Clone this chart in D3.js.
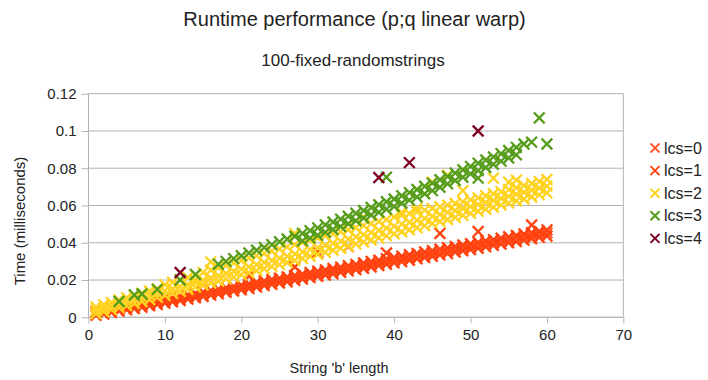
<!DOCTYPE html>
<html><head><meta charset="utf-8">
<script src="https://cdn.jsdelivr.net/npm/d3@7"></script>
<style>body{margin:0;background:#fff}svg{display:block}text{font-family:"Liberation Sans",Arial,sans-serif;fill:#222}</style>
</head><body><svg id="c" width="708" height="380"></svg>
<script>
const chartTitle = "Runtime performance (p;q linear warp)";
const chartSubtitle = "100-fixed-randomstrings";
const xTitle = "String 'b' length";
const yTitle = "Time (milliseconds)";
const xTicks = [0,10,20,30,40,50,60,70];
const yTicks = [0,0.02,0.04,0.06,0.08,0.1,0.12];
const yTickLabels = ["0","0.02","0.04","0.06","0.08","0.1","0.12"];
const seriesNames = ["lcs=0","lcs=1","lcs=2","lcs=3","lcs=4"];
const seriesColors = ["#ff5a36","#ff420e","#ffd320","#579d1c","#7e0021"];

const lengths = [1,2,3,4,5,6,7,8,9,10,11,12,13,14,15,16,17,18,19,20,21,22,23,24,25,26,27,28,29,30,
  31,32,33,34,35,36,37,38,39,40,41,42,43,44,45,46,47,48,49,50,51,52,53,54,55,56,57,58,59,60];

// lcs=0
const lcs0Time = [.0022,.0030,.0037,.0044,.0052,.0059,.0066,.0073,.0081,.0088,.0095,.0103,.0110,.0117,.0125,.0132,.0139,.0146,.0154,.0161,
  .0168,.0176,.0183,.0190,.0198,.0205,.0212,.0219,.0227,.0234,.0241,.0249,.0256,.0263,.0271,.0278,.0285,.0292,.0300,.0307,
  .0314,.0322,.0329,.0336,.0344,.0351,.0358,.0365,.0373,.0380,.0387,.0395,.0402,.0409,.0417,.0424,.0431,.0438,.0446,.0453];

// lcs=1
const lcs1TimeLow = [.0011,.0018,.0026,.0033,.0040,.0047,.0054,.0062,.0069,.0076,.0083,.0090,.0098,.0105,.0112,.0119,.0126,.0134,.0141,.0148,
  .0155,.0162,.0170,.0177,.0184,.0191,.0198,.0206,.0213,.0220,.0227,.0234,.0242,.0249,.0256,.0263,.0270,.0278,.0285,.0292,
  .0299,.0306,.0314,.0321,.0328,.0335,.0342,.0350,.0357,.0364,.0371,.0378,.0386,.0393,.0400,.0407,.0414,.0422,.0429,.0436];
const lcs1TimeHigh = [.0032,.0040,.0047,.0055,.0062,.0069,.0077,.0084,.0092,.0099,.0106,.0114,.0121,.0129,.0136,.0143,.0151,.0158,.0166,.0173,
  .0180,.0188,.0195,.0203,.0210,.0217,.0225,.0232,.0240,.0247,.0254,.0262,.0269,.0277,.0284,.0291,.0299,.0306,.0314,.0321,
  .0328,.0336,.0343,.0351,.0358,.0365,.0373,.0380,.0388,.0395,.0402,.0410,.0417,.0425,.0432,.0439,.0447,.0454,.0462,.0469];
const lcs1ExtraLength = [15,21,27,30,34,39,46,51,58];
const lcs1ExtraTime = [.0173,.0220,.0270,.0350,.0380,.0345,.0450,.0460,.0495];

// lcs=2
const lcs2TimeLow = [.0019,.0030,.0041,.0052,.0063,.0074,.0085,.0096,.0107,.0118,.0129,.0140,.0151,.0162,.0173,.0184,.0195,.0206,.0217,.0228,
  .0239,.0250,.0261,.0272,.0283,.0294,.0305,.0316,.0327,.0338,.0349,.0360,.0371,.0382,.0393,.0404,.0415,.0426,.0437,.0448,
  .0459,.0470,.0481,.0492,.0503,.0514,.0525,.0536,.0547,.0558,.0569,.0580,.0591,.0602,.0613,.0624,.0635,.0646,.0657,.0668];
const lcs2TimeMid = [.0037,.0049,.0061,.0072,.0084,.0096,.0107,.0119,.0130,.0142,.0153,.0165,.0176,.0188,.0199,.0211,.0223,.0235,.0247,.0259,
  .0271,.0282,.0294,.0305,.0317,.0328,.0340,.0351,.0363,.0374,.0386,.0397,.0409,.0420,.0432,.0443,.0455,.0466,.0478,.0489,
  .0500,.0510,.0521,.0531,.0542,.0552,.0563,.0573,.0584,.0594,.0605,.0616,.0627,.0638,.0649,.0660,.0671,.0682,.0693,.0704];
const lcs2TimeHigh = [.0055,.0068,.0080,.0093,.0105,.0117,.0129,.0141,.0153,.0175,.0188,.0201,.0214,.0227,.0240,.0253,.0266,.0279,.0292,.0305,
  .0318,.0330,.0342,.0354,.0366,.0378,.0390,.0402,.0414,.0426,.0437,.0448,.0459,.0470,.0481,.0492,.0503,.0514,.0525,.0538,
  .0548,.0557,.0566,.0575,.0584,.0593,.0602,.0611,.0620,.0630,.0641,.0652,.0663,.0674,.0685,.0696,.0707,.0718,.0729,.0740];
const lcs2ExtraLength = [14,16,27,36,41,43,45,47,49,53,55,56];
const lcs2ExtraTime = [.0200,.0297,.0450,.0537,.0563,.0585,.0725,.0763,.0680,.0747,.0725,.0736];

// lcs=3
const lcs3Length = [17,18,19,20,21,22,23,24,25,26,27,28,29,30,31,32,33,34,35,36,37,38,39,40,41,42,43,44,45,46,47,48,49,50,51,52,53,54,55,56,57];
const lcs3TimeHigh = [.0285,.0300,.0315,.0330,.0345,.0360,.0375,.0390,.0405,.0420,.0435,.0450,.0465,.0480,.0496,.0511,.0527,.0542,.0558,.0573,
  .0589,.0604,.0620,.0635,.0652,.0669,.0686,.0703,.0720,.0738,.0756,.0774,.0792,.0810,.0827,.0844,.0861,.0878,.0895,.0912,.0930];
const lcs3LowLength = [28,29,30,31,32,33,34,35,36,37,38,39,40,41,42,43,44,45,46,47,48,49,50,51,52,53,54,55,56];
const lcs3TimeLow = [.0410,.0425,.0440,.0456,.0471,.0487,.0502,.0518,.0533,.0549,.0564,.0580,.0595,.0612,.0629,.0646,.0663,.0680,.0698,.0716,
  .0734,.0752,.0770,.0787,.0804,.0821,.0838,.0855,.0872];
const lcs3ExtraLength = [4,6,7,9,12,14,39,51,58,59,60];
const lcs3ExtraTime = [.0085,.0120,.0125,.0150,.0200,.0230,.0752,.0747,.0940,.1070,.0930];

// lcs=4
const lcs4Length = [12,38,42,51];
const lcs4Time = [.0240,.0750,.0830,.1000];

function pts(xsArr, ysArr){ return xsArr.map((x,i)=>({x:x, y:ysArr[i]})); }
const seriesPoints = [
  pts(lengths, lcs0Time),
  [].concat(pts(lengths, lcs1TimeLow), pts(lengths, lcs1TimeHigh), pts(lcs1ExtraLength, lcs1ExtraTime)),
  [].concat(pts(lengths, lcs2TimeLow), pts(lengths, lcs2TimeMid), pts(lengths, lcs2TimeHigh), pts(lcs2ExtraLength, lcs2ExtraTime)),
  [].concat(pts(lcs3ExtraLength.slice(0,6), lcs3ExtraTime.slice(0,6)), pts(lcs3Length, lcs3TimeHigh), pts(lcs3LowLength, lcs3TimeLow), pts(lcs3ExtraLength.slice(6), lcs3ExtraTime.slice(6))),
  pts(lcs4Length, lcs4Time)
];

const svg = d3.select("#c");
const L = 88.5, R = 623.3, T = 93.7, B = 317.3;
const x = d3.scaleLinear().domain([0,70]).range([L,R]);
const y = d3.scaleLinear().domain([0,0.12]).range([B,T]);
const gridColor = "#b3b3b3";
const FONT = "'Liberation Sans',Arial,sans-serif";

// horizontal gridlines
svg.append("g").selectAll("line").data(yTicks).join("line")
  .attr("x1", L).attr("x2", R).attr("y1", d=>y(d)).attr("y2", d=>y(d))
  .attr("stroke", gridColor).attr("stroke-width", 1);
// right border
svg.append("line").attr("x1",R).attr("x2",R).attr("y1",T).attr("y2",B).attr("stroke",gridColor);

// y axis
const yAxis = d3.axisLeft(y).tickValues(yTicks).tickSize(7).tickPadding(5)
  .tickFormat((d,i)=>yTickLabels[i]);
const gy = svg.append("g").attr("transform",`translate(${L},0)`).call(yAxis);
gy.select(".domain").attr("stroke",gridColor).attr("d",`M0,${T}V${B}`);
gy.selectAll(".tick line").attr("stroke",gridColor);
gy.selectAll("text").style("font-size","15px").style("font-family",FONT).attr("fill","#222");

// x axis
const xAxis = d3.axisBottom(x).tickValues(xTicks).tickSize(6).tickPadding(6);
const gx = svg.append("g").attr("transform",`translate(0,${B})`).call(xAxis);
gx.select(".domain").attr("stroke",gridColor).attr("d",`M${L},0H${R}`);
gx.selectAll(".tick line").attr("stroke",gridColor);
gx.selectAll("text").style("font-size","15px").style("font-family",FONT).attr("fill","#222");

// markers
const h = 5.4;
const xPath = `M${-h},${-h}L${h},${h}M${-h},${h}L${h},${-h}`;
seriesPoints.forEach((p,si)=>{
  svg.append("g").selectAll("path").data(p).join("path")
    .attr("transform", d=>`translate(${x(d.x)},${y(d.y)})`)
    .attr("d", xPath).attr("stroke", seriesColors[si]).attr("stroke-width", 2.3)
    .attr("fill","none");
});

// titles
svg.append("text").attr("x",354.5).attr("y",26).attr("text-anchor","middle").style("font-size","20px").text(chartTitle);
svg.append("text").attr("x",353).attr("y",66).attr("text-anchor","middle").style("font-size","17px").text(chartSubtitle);
svg.append("text").attr("x",339).attr("y",373).attr("text-anchor","middle").style("font-size","14.5px").text(xTitle);
svg.append("text").attr("transform",`translate(25,221) rotate(-90)`).attr("text-anchor","middle").style("font-size","15px").text(yTitle);

// legend
const lg = svg.append("g");
seriesNames.forEach((n,i)=>{
  const cy = 148 + i*22.6;
  lg.append("path").attr("transform",`translate(655,${cy})`).attr("d",`M-4.5,-4.5L4.5,4.5M-4.5,4.5L4.5,-4.5`)
    .attr("stroke",seriesColors[i]).attr("stroke-width",2).attr("fill","none");
  lg.append("text").attr("x",664).attr("y",cy+5.5).style("font-size","16px").text(n);
});
</script></body></html>
